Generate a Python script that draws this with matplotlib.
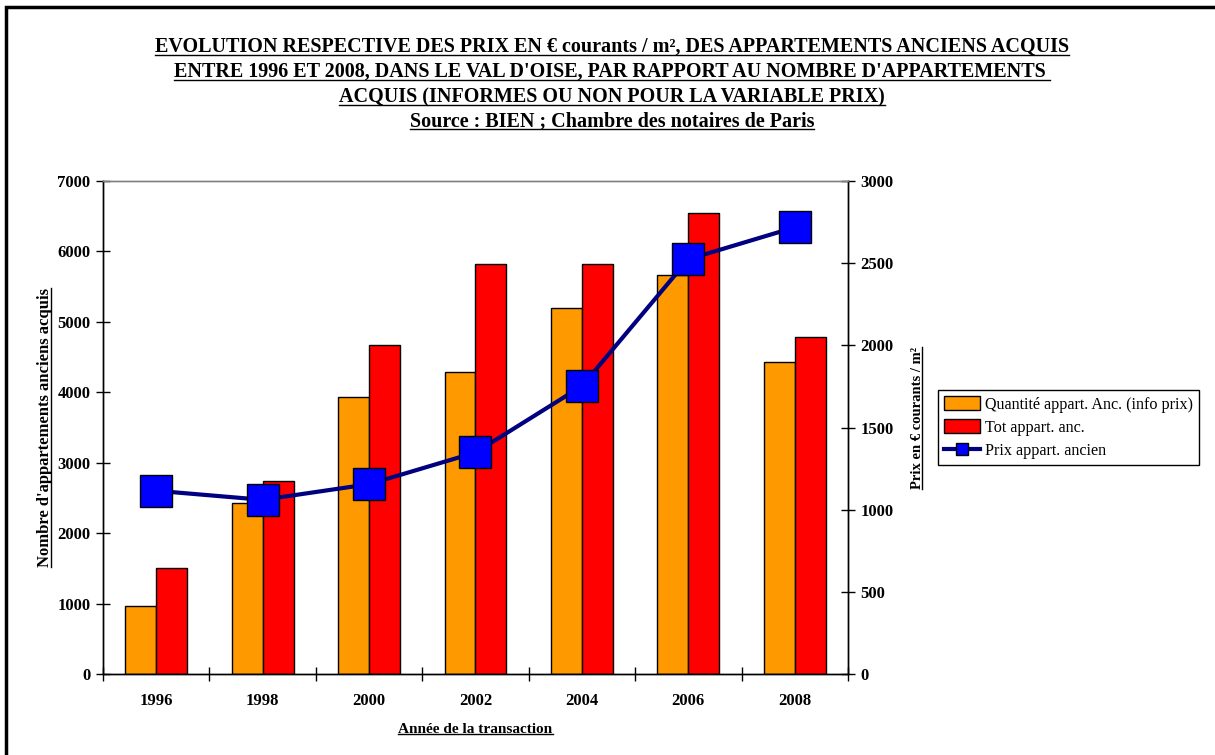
import matplotlib
matplotlib.use('Agg')
import matplotlib.pyplot as plt
import numpy as np
from matplotlib.lines import Line2D
from matplotlib.patches import Rectangle

plt.rcParams['font.family'] = ['Liberation Serif', 'DejaVu Serif']

years = ['1996', '1998', '2000', '2002', '2004', '2006', '2008']
qte_info_prix = [970, 2430, 3935, 4290, 5200, 5665, 4430]
tot_appart = [1505, 2735, 4670, 5820, 5820, 6540, 4790]
prix_m2 = [1115, 1060, 1155, 1348, 1752, 2524, 2718]

titre = ["EVOLUTION RESPECTIVE DES PRIX EN \u20ac courants / m\u00b2, DES APPARTEMENTS ANCIENS ACQUIS",
         "ENTRE 1996 ET 2008, DANS LE VAL D'OISE, PAR RAPPORT AU NOMBRE D'APPARTEMENTS ",
         "ACQUIS (INFORMES OU NON POUR LA VARIABLE PRIX)",
         "Source : BIEN ; Chambre des notaires de Paris"]

W, H = 1215, 755
fig = plt.figure(figsize=(W / 100, H / 100), dpi=100)
ax = fig.add_axes([103 / W, 1 - 674 / H, (848 - 103) / W, (674 - 181) / H])
ax2 = ax.twinx()

x = np.arange(len(years))
bw = 0.29
ax.bar(x - bw / 2, qte_info_prix, bw, color='#FF9900', edgecolor='black', linewidth=1,
       label='Quantit\u00e9 appart. Anc. (info prix)', zorder=2)
ax.bar(x + bw / 2, tot_appart, bw, color='#FF0000', edgecolor='black', linewidth=1,
       label='Tot appart. anc.', zorder=2)
ax2.plot(x, prix_m2, color='#000080', linewidth=3, marker='s', markersize=23.5,
         markerfacecolor='#0000FF', markeredgecolor='black', markeredgewidth=1,
         label='Prix appart. ancien', zorder=3)

ax.set_xlim(-0.5, len(years) - 0.5)
ax.set_ylim(0, 7000)
ax2.set_ylim(0, 3000)
ax.set_yticks(np.arange(0, 7001, 1000))
ax2.set_yticks(np.arange(0, 3001, 500))
ax.set_xticks(np.arange(-0.5, len(years), 1.0))
ax.set_xticklabels([])
ax.set_xticks(x, minor=True)
ax.set_xticklabels(years, minor=True)
ax.tick_params(axis='x', which='major', direction='inout', length=10, width=1)
ax.tick_params(axis='x', which='minor', length=0, pad=14, labelsize=12)
ax.tick_params(axis='y', direction='inout', length=10, width=1, labelsize=12, pad=4)
ax2.tick_params(axis='y', direction='inout', length=10, width=1, labelsize=12, pad=4)
for a in (ax, ax2):
    for lab in a.get_xticklabels(minor=True) + a.get_yticklabels():
        lab.set_fontweight('bold')
    for s in a.spines.values():
        s.set_linewidth(1)
    a.spines['top'].set_color('#808080')

xl = ax.set_xlabel('Ann\u00e9e de la transaction', fontsize=11, fontweight='bold', labelpad=10)
yl = ax.set_ylabel("Nombre d'appartements anciens acquis", fontsize=12, fontweight='bold', labelpad=3)
yl2 = ax2.set_ylabel('Prix en \u20ac courants / m\u00b2', fontsize=10.5, fontweight='bold',
                     rotation=90)
ax2.yaxis.set_label_coords(1.085, 0.52)

title_texts = []
for i, (t, ypx) in enumerate(zip(titre, [47, 72, 97, 121])):
    title_texts.append(fig.text(612 / W, 1 - ypx / H, t, ha='center', va='center',
                                fontsize=14.5, fontweight='bold'))

h1, l1 = ax.get_legend_handles_labels()
h2, l2 = ax2.get_legend_handles_labels()
leg_line = Line2D([], [], color='#000080', linewidth=3, marker='s', markersize=9,
                  markerfacecolor='#0000FF', markeredgecolor='black')
fig.legend(h1 + [leg_line], l1 + l2, loc='upper left',
           bbox_to_anchor=(938 / W, 1 - 390 / H), fancybox=False, framealpha=1,
           edgecolor='black', fontsize=11.6, handlelength=2.2, handleheight=0.9,
           borderpad=0.4, labelspacing=0.42, handletextpad=0.3, borderaxespad=0)

# chart area border
fig.patches.append(Rectangle((6 / W, -0.1), 1.2, 1 - 7 / H + 0.1, transform=fig.transFigure,
                             fill=False, edgecolor='black', linewidth=2.5))

# underlines
fig.canvas.draw()
r = fig.canvas.get_renderer()
inv = fig.transFigure.inverted()
for t in title_texts + [xl]:
    bb = t.get_window_extent(r)
    (x0, y0), (x1, _) = inv.transform([(bb.x0, bb.y0 + 2), (bb.x1, bb.y0 + 2)])
    fig.lines.append(Line2D([x0, x1], [y0, y0], color='black', linewidth=1,
                            transform=fig.transFigure))
for t in (yl, yl2):
    bb = t.get_window_extent(r)
    (x0, y0), (_, y1) = inv.transform([(bb.x1 - 2, bb.y0), (bb.x1 - 2, bb.y1)])
    fig.lines.append(Line2D([x0, x0], [y0, y1], color='black', linewidth=1,
                            transform=fig.transFigure))

fig.savefig('out.png', dpi=100)
